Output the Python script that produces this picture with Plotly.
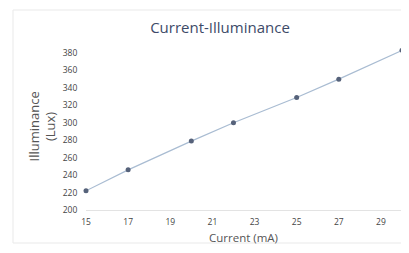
import plotly.graph_objects as go

current_ma = [15, 17, 20, 22, 25, 27, 30]
illuminance_lux = [222, 246, 279, 300, 329, 350, 383]
x_ticks = [15, 17, 19, 21, 23, 25, 27, 29]
y_ticks = [200, 220, 240, 260, 280, 300, 320, 340, 360, 380]

fig = go.Figure()
fig.add_trace(go.Scatter(
    x=current_ma, y=illuminance_lux, mode="lines+markers",
    line=dict(color="#a9bcd2", width=1.2),
    marker=dict(color="#56627a", size=5),
    cliponaxis=False, showlegend=False,
))

# the page body adds an 8px offset; figure coords = page coords - 8
OFF = 8
W, H = 409 - OFF, 253 - OFF
L, R, T, B = 86 - OFF, 7, 46 - OFF, 43
pw, ph = W - L - R, H - T - B

def px(x):
    return (x - OFF - L) / pw

def py(y):
    return (H - B - (y - OFF)) / ph

fig.add_shape(type="rect", xref="paper", yref="paper",
              x0=px(13), x1=px(430), y0=py(243), y1=py(10),
              line=dict(color="#e9e9e9", width=1), fillcolor="rgba(0,0,0,0)", layer="below")

fig.add_annotation(text="Illuminance<br>(Lux)", textangle=-90, showarrow=False,
                   xref="paper", yref="paper", x=px(41.5), y=py(127),
                   xanchor="center", yanchor="middle",
                   font=dict(size=13, color="#555"))
fig.add_annotation(text="Current (mA)", showarrow=False,
                   xref="paper", yref="paper", x=px(243), y=py(237),
                   xanchor="center", yanchor="middle",
                   font=dict(size=11.5, color="#555"))

fig.update_layout(
    width=W, height=H,
    margin=dict(l=L, r=R, t=T, b=B, autoexpand=False),
    paper_bgcolor="white", plot_bgcolor="white",
    font=dict(family="Open Sans, sans-serif", size=8.5, color="#444"),
    title=dict(text="Current-Illuminance", x=(220 - OFF) / W, xanchor="center", xref="container",
               y=1 - (28 - OFF) / H, yanchor="middle", yref="container",
               font=dict(size=15, color="#3d4a68")),
    xaxis=dict(range=[15, 30], tickvals=x_ticks, showgrid=False, zeroline=False,
               automargin=False,
               showline=True, linecolor="#e3e3e3", linewidth=1,
               ticks="outside", ticklen=4, tickcolor="rgba(0,0,0,0)"),
    yaxis=dict(range=[200, 388], tickvals=y_ticks, showgrid=False, zeroline=False,
               automargin=False, showline=False,
               ticks="outside", ticklen=6, tickcolor="rgba(0,0,0,0)"),
)

fig.write_html("out.html")
